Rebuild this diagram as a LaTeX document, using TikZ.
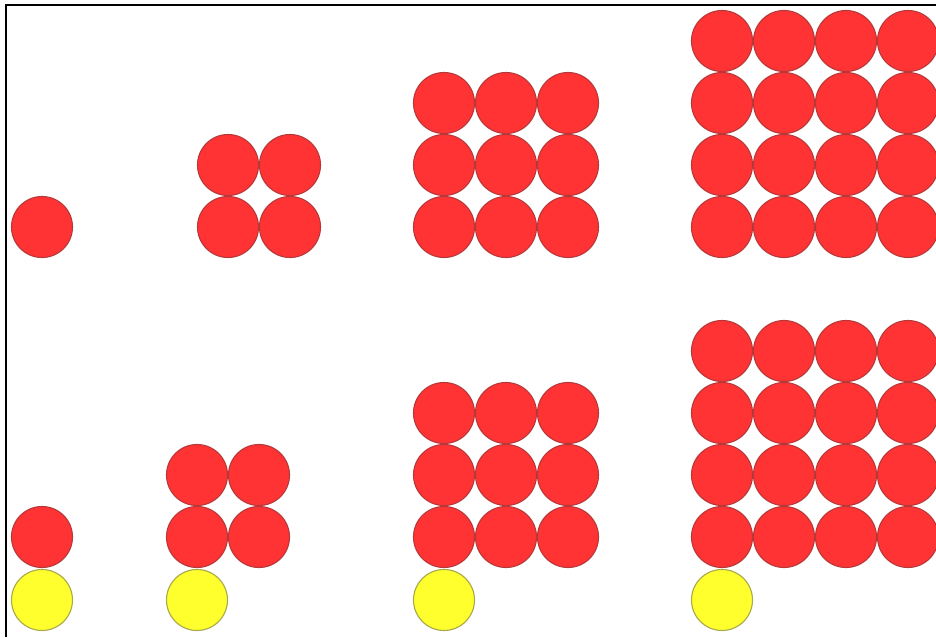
\documentclass[tikz,border=0pt]{standalone}
\definecolor{ballred}{HTML}{FF3333}
\definecolor{balledge}{HTML}{B8383A}
\definecolor{ballyellow}{HTML}{FFFF2E}
\definecolor{yedge}{HTML}{A8A848}
\tikzset{
  redball/.style={circle, fill=ballred, draw=balledge, line width=1.1pt, minimum size=61pt, inner sep=0pt},
  yellowball/.style={circle, fill=ballyellow, draw=yedge, line width=1.1pt, minimum size=61pt, inner sep=0pt},
  frameline/.style={line width=2pt, black}
}
\begin{document}
\begin{tikzpicture}[x=1pt,y=-1pt]
\useasboundingbox (0,0) rectangle (936,637);
\clip (0,0) rectangle (936,637);
\fill[white] (0,0) rectangle (936,637);
% frame (left and top edges)
\coordinate (fbl) at (6,637);
\coordinate (ftl) at (6,5);
\coordinate (ftr) at (936,5);
\draw[frameline] (fbl) -- (ftl) -- (ftr);
% top row: squares 1,2,3,4
\node[redball] (t1-1-1) at (42,227) {};
\foreach \i in {1,2} \foreach \j in {1,2}
  \node[redball] (t2-\i-\j) at ({228+62*(\i-1)},{165+62*(\j-1)}) {};
\foreach \i in {1,2,3} \foreach \j in {1,2,3}
  \node[redball] (t3-\i-\j) at ({444+62*(\i-1)},{103+62*(\j-1)}) {};
\foreach \i in {1,2,3,4} \foreach \j in {1,2,3,4}
  \node[redball] (t4-\i-\j) at ({722+62*(\i-1)},{41+62*(\j-1)}) {};
% bottom row: squares plus one
\node[redball] (b1-1-1) at (42,537) {};
\node[yellowball] (y1) at (42,600) {};
\foreach \i in {1,2} \foreach \j in {1,2}
  \node[redball] (b2-\i-\j) at ({197+62*(\i-1)},{475+62*(\j-1)}) {};
\node[yellowball] (y2) at (197,600) {};
\foreach \i in {1,2,3} \foreach \j in {1,2,3}
  \node[redball] (b3-\i-\j) at ({444+62*(\i-1)},{413+62*(\j-1)}) {};
\node[yellowball] (y3) at (444,600) {};
\foreach \i in {1,2,3,4} \foreach \j in {1,2,3,4}
  \node[redball] (b4-\i-\j) at ({722+62*(\i-1)},{351+62*(\j-1)}) {};
\node[yellowball] (y4) at (722,600) {};
\end{tikzpicture}
\end{document}
